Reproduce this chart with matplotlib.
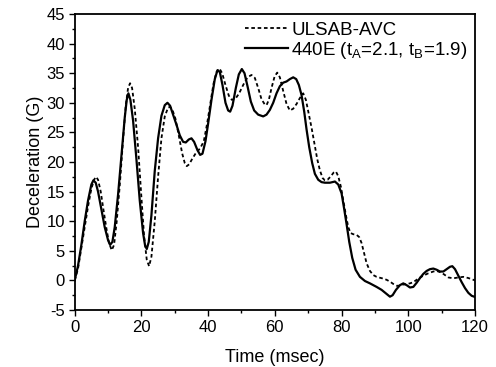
import matplotlib
matplotlib.use("Agg")
import matplotlib.pyplot as plt
from matplotlib.ticker import MultipleLocator

plt.rcParams['font.family'] = ['Liberation Sans', 'DejaVu Sans']
plt.rcParams['axes.unicode_minus'] = False

# ULSAB-AVC (dashed)
t_ulsab = [0, 1, 2, 3, 4, 5, 5.8, 6.4, 7, 7.8, 8.6, 9.5, 10.3, 11.1, 11.8, 12.6, 13.5, 14.4,
           15.3, 16, 16.6, 17.2, 18, 19, 20, 20.8, 21.6, 22.3, 23, 24, 25, 26, 27, 28, 28.6,
           29.3, 30.2, 31.2, 32.2, 33, 33.6, 34.3, 35.2, 36.3, 37.6, 38.7, 39.7, 40.7, 41.6,
           42.5, 43.4, 44.2, 45.2, 46.2, 47.1, 48.2, 49.3, 50.5, 51.8, 53, 54, 55, 56, 57,
           57.5, 58.2, 59, 59.9, 60.7, 61.5, 62.5, 63.5, 64.5, 65.5, 66.5, 67.5, 68.5, 69.3,
           70.2, 71, 71.8, 72.7, 73.5, 74.3, 75, 75.8, 76.8, 77.6, 78.3, 79, 79.8, 80.5, 81.3,
           82, 82.7, 83.5, 84.5, 85.3, 86, 86.8, 87.5, 88.5, 89.5, 90.5, 91.5, 92.5, 93.5,
           94.5, 95.5, 96.5, 97.5, 98.5, 99.5, 100.5, 101.5, 103, 104.5, 106, 107.5, 108.5,
           110, 111, 112, 113.5, 115, 116.5, 118, 119, 120]
g_ulsab = [0, 2, 5.5, 9, 12.5, 15.5, 17, 17.5, 17, 15, 12, 8.8, 6.3, 5.1, 6, 10, 16, 23,
           29.5, 32.5, 33.3, 32.5, 29, 22.5, 14, 7.5, 3.5, 2.4, 4, 10, 17.5, 24, 27.7, 29.2, 29.3,
           28.8, 27.3, 24.5, 21.5, 19.8, 19.3, 19.6, 20.5, 21.5, 22.3, 23.5, 26.5, 30, 33.2,
           35.2, 35.8, 35, 33, 31.2, 30.5, 30.7, 31.6, 33, 34.3, 34.7, 34.2, 32.5, 30.6, 29.7,
           29.6, 30.5, 32.5, 34.4, 35.1, 34.3, 32, 29.8, 28.7, 29, 29.8, 30.8, 31.6, 30.5,
           28, 25.8, 23.3, 20.5, 18.6, 17.3, 16.9, 17, 17.6, 18.2, 18.4, 17.6, 15.8, 13.6, 11,
           9, 8, 7.8, 7.7, 7.3, 6.3, 4.5, 2.9, 1.6, 0.9, 0.6, 0.45, 0.3, 0.1,
           -0.2, -0.6, -0.9, -0.9, -0.7, -0.6, -0.5, -0.3, 0.3, 0.8, 1.2, 1.5, 1.6,
           1.3, 0.9, 0.5, 0.35, 0.5, 0.6, 0.4, 0.2, 0]

# 440E (solid)
t_440e = [0, 1, 2, 3, 4, 5, 5.6, 6.3, 7, 8, 9, 10, 10.6, 11.3, 12, 13, 14, 15, 15.6, 16.1,
          16.7, 17.5, 18.5, 19.5, 20.5, 21.1, 21.6, 22.2, 23, 24, 25, 26, 27, 27.8, 28.6,
          29.5, 30.5, 31.5, 32.5, 33.3, 34.2, 35, 35.8, 36.8, 37.6, 38.3, 39.2, 40, 41, 42,
          42.8, 43.5, 44.3, 45.2, 46, 46.6, 47.3, 48.3, 49.2, 50.1, 50.9, 51.8, 52.8, 53.8,
          55, 56.5, 57.5, 58.5, 59.5, 60.5, 61.5, 62.5, 63.5, 64.5, 65.5, 66.4, 67.2, 68,
          68.8, 69.5, 70.3, 71.2, 72, 73, 74, 75, 76.5, 78, 79, 80, 80.8, 81.5, 82.3, 83.2,
          84.2, 85.5, 87, 88.5, 90.5, 92, 93.5, 94.5, 95.3, 96.3, 97.5, 98.5, 99.5, 100.5,
          101.5, 102.5, 103.5, 104.5, 105.5, 106.5, 107.5, 108.5, 109.5, 110.5, 111.5, 112.5,
          113.2, 114, 115, 116, 117, 118, 119, 120]
g_440e = [0, 2.5, 6, 10, 13.5, 16.2, 16.9, 16.5, 15, 12, 9, 6.8, 6.0, 6.5, 9, 14.5, 21, 27.5,
          30.5, 31.6, 30.5, 27, 20.5, 13.5, 8, 5.9, 5.3, 6.5, 11, 18.5, 24, 27.8, 29.6, 30.0,
          29.5, 28, 26.3, 24.5, 23.4, 23.3, 23.8, 24.0, 23.4, 22, 21.2, 21.4, 23.5, 26.5, 30.5,
          34, 35.5, 35.2, 33, 30, 28.7, 28.5, 29.5, 32.5, 34.8, 35.7, 35, 32.8, 30.2, 28.7,
          28, 27.7, 28, 28.8, 30, 31.6, 32.8, 33.4, 33.6, 34, 34.3, 34, 33, 31.3,
          28.5, 25.5, 22.5, 19.8, 18, 17, 16.6, 16.5, 16.5, 16.7, 16.2, 14.7, 12, 9.5, 6.5, 3.8,
          1.8, 0.6, -0.1, -0.5, -1.1, -1.6, -2.3, -2.75, -2.5, -1.6, -0.8, -0.5, -0.8, -1.2,
          -1.1, -0.4, 0.4, 1.1, 1.6, 1.9, 2.0, 1.8, 1.5, 1.5, 1.9, 2.3,
          2.4, 1.9, 0.8, -0.3, -1.3, -2.1, -2.6, -2.8]

x_ticks = [0, 20, 40, 60, 80, 100, 120]
y_ticks = [-5, 0, 5, 10, 15, 20, 25, 30, 35, 40, 45]

fig = plt.figure(figsize=(4.96, 3.67), dpi=100)
ax = fig.add_axes([0.1506, 0.1553, 0.8071, 0.8066])

ax.plot(t_ulsab, g_ulsab, color='black', lw=1.3, linestyle=(0, (2, 1.5)), label='ULSAB-AVC')
ax.plot(t_440e, g_440e, color='black', lw=1.6, linestyle='-',
        label='440E (t$_\\mathregular{A}$=2.1, t$_\\mathregular{B}$=1.9)')

ax.set_xlim(0, 120)
ax.set_ylim(-5, 45)
ax.set_xticks(x_ticks)
ax.set_yticks(y_ticks)
ax.xaxis.set_minor_locator(MultipleLocator(10))
ax.yaxis.set_minor_locator(MultipleLocator(2.5))
ax.tick_params(which='major', direction='out', length=4, width=1, labelsize=12, pad=3)
ax.tick_params(which='minor', direction='out', length=2.5, width=1)
for s in ax.spines.values():
    s.set_linewidth(1.3)

ax.set_xlabel('Time (msec)', fontsize=13, labelpad=10)
ax.set_ylabel('Deceleration (G)', fontsize=13, labelpad=2)

leg = ax.legend(loc='upper right', frameon=False, fontsize=13.5, handlelength=2.3,
                handletextpad=0.15, borderaxespad=0.0, labelspacing=0.05)

fig.savefig('out.png', dpi=100)
